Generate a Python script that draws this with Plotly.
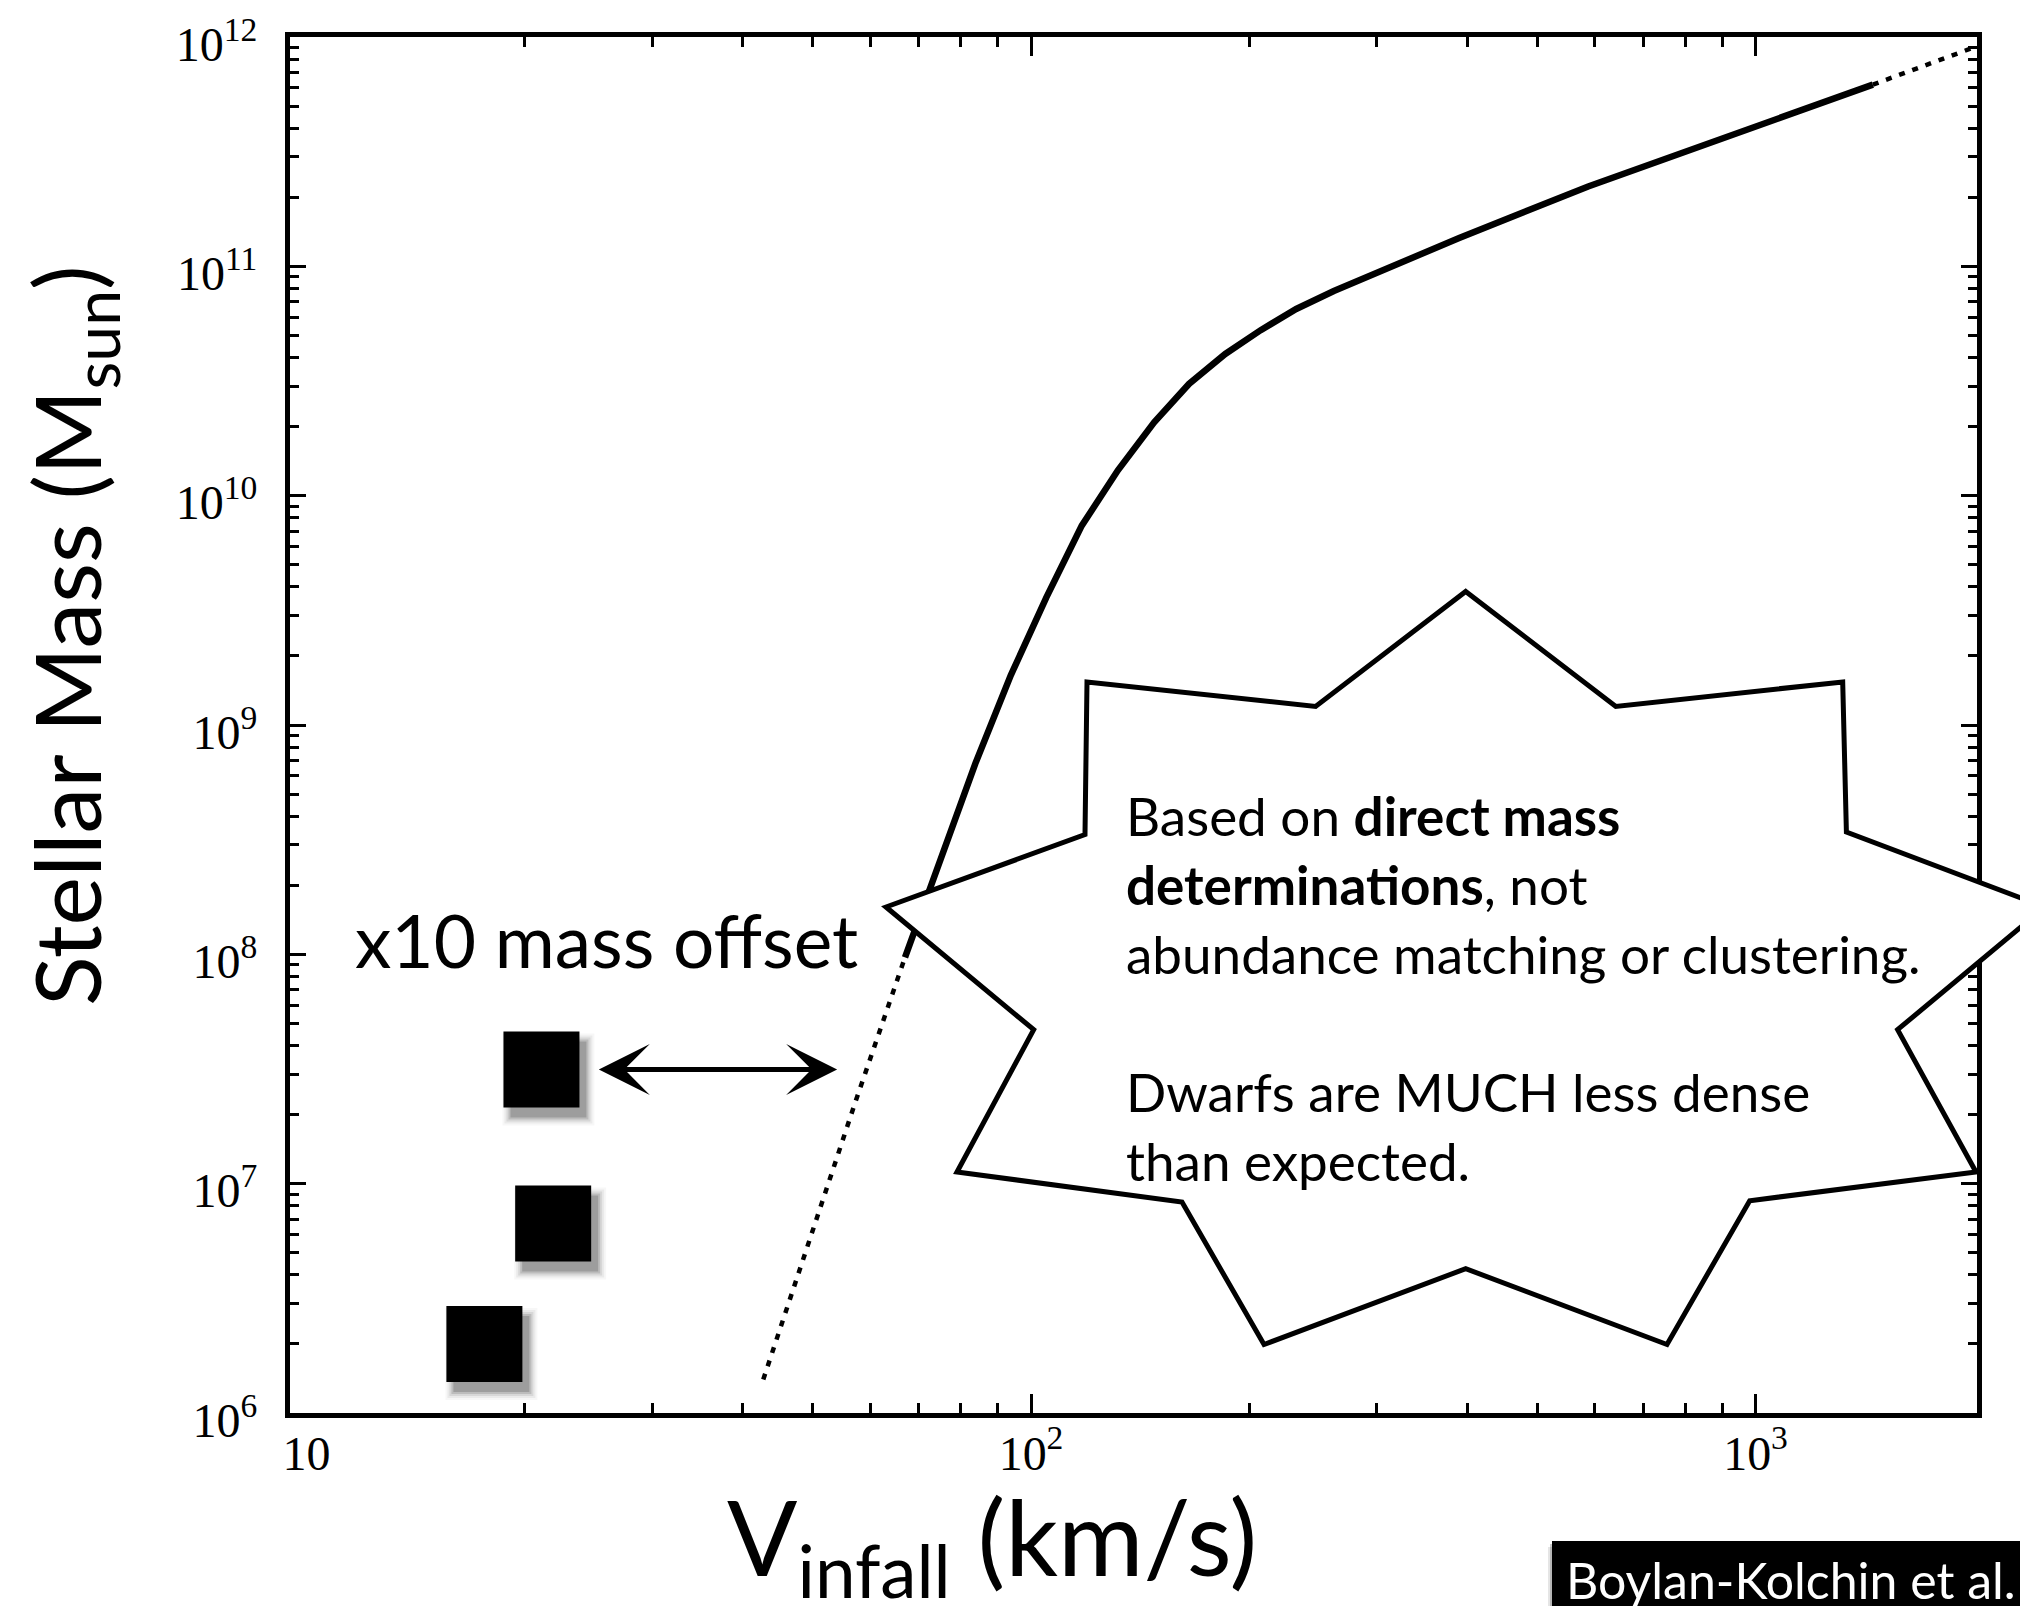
import numpy as np
import plotly.graph_objects as go

# ---------------- data ----------------
# V_infall (km/s) and stellar mass (M_sun) of the abundance-matching relation
v_solid = [67.0, 83.8, 93.8, 105.0, 117.5, 131.8, 147.9, 165.2, 185.4, 207.5,
           232.3, 261.8, 389.9, 587.5, 1452.0]
m_solid = [9.7e7, 6.8e8, 1.65e9, 3.6e9, 7.4e9, 1.29e10, 2.09e10, 3.07e10,
           4.15e10, 5.27e10, 6.52e10, 7.8e10, 1.33e11, 2.23e11, 6.2e11]
# extrapolated (dotted) parts
v_dot_lo = [42.7, 57.3, 67.0]
m_dot_lo = [1.4e6, 2.3e7, 9.7e7]
v_dot_hi = [1452.0, 2000.0]
m_dot_hi = [6.2e11, 9.0e11]
# dwarf satellites (squares)
v_dwarf = [21.1, 21.9, 17.6]
m_dwarf = [3.15e7, 6.7e6, 2.0e6]
# x10 mass offset arrow
offset_v = [25.2, 54.0]
offset_m = 3.15e7

x_tickvals = [10, 100, 1000]
x_ticktext = ["10", "10<sup>2</sup>", "10<sup>3</sup>"]
y_tickvals = [1e6, 1e7, 1e8, 1e9, 1e10, 1e11, 1e12]
y_ticktext = ["10<sup>6</sup>", "10<sup>7</sup>", "10<sup>8</sup>", "10<sup>9</sup>",
              "10<sup>10</sup>", "10<sup>11</sup>", "10<sup>12</sup>"]

# ---------------- layout geometry ----------------
W, H = 2028, 1606
L, T = 282, 29
AX_W, AX_H = 1687, 1376
SX, SY = 7, 10            # square shadow offset (px)
WP, HP = AX_W + SX, AX_H + SY
R = W - L - WP
B = H - T - HP
ex, ey = SX / WP, SY / HP

def px(X):
    return (X - L) / WP

def py(Y):
    return (T + HP - Y) / HP

XR = [0.9772, 3.3057]
YR = [5.9999, 12.0001]

SANS = "Lato"
SERIF = "Liberation Serif"

minor_x = [k * 10 ** e for e in (1, 2) for k in range(2, 10)]
minor_y = [k * 10.0 ** e for e in range(6, 12) for k in range(2, 10)]

fig = go.Figure()

dot_style = dict(color="black", width=4.5, dash="6px,8px")
fig.add_trace(go.Scatter(x=v_dot_lo, y=m_dot_lo, mode="lines", line=dot_style,
                         xaxis="x", yaxis="y", hoverinfo="skip"))
fig.add_trace(go.Scatter(x=v_dot_hi, y=m_dot_hi, mode="lines", line=dot_style,
                         xaxis="x", yaxis="y", hoverinfo="skip"))
fig.add_trace(go.Scatter(x=v_solid, y=m_solid, mode="lines",
                         line=dict(color="black", width=6.5),
                         xaxis="x", yaxis="y", hoverinfo="skip"))

# soft shadows (shifted subplot)
for s, a in [(92, 0.03), (88, 0.05), (84, 0.08), (80, 0.12), (76, 0.16)]:
    fig.add_trace(go.Scatter(x=v_dwarf, y=m_dwarf, mode="markers",
                             marker=dict(symbol="square", size=s,
                                         color=f"rgba(0,0,0,{a})",
                                         line=dict(width=0)),
                             xaxis="x2", yaxis="y2", cliponaxis=False,
                             hoverinfo="skip"))
# squares
fig.add_trace(go.Scatter(x=v_dwarf, y=m_dwarf, mode="markers",
                         marker=dict(symbol="square", size=76, color="black",
                                     line=dict(width=0)),
                         xaxis="x3", yaxis="y3", cliponaxis=False,
                         hoverinfo="skip"))

axis_common = dict(type="log", showgrid=False, zeroline=False, automargin=False)

STAR_PX = [(1465.7, 591.4), (1615.8, 706.4), (1842.7, 681.9), (1846.4, 832.0),
           (2045.0, 907.0), (1897.6, 1029.7), (1976.0, 1172.0), (1749.7, 1200.7),
           (1667.0, 1344.5), (1465.7, 1268.7), (1264.0, 1344.5), (1182.0, 1202.0),
           (957.0, 1172.0), (1033.7, 1029.7), (886.0, 907.0), (1085.0, 834.6),
           (1087.0, 682.0), (1315.6, 706.4)]
STAR_DX, STAR_DY = -8, -8
star_path = "M " + " L ".join(f"{px(x + STAR_DX):.5f},{py(y + STAR_DY):.5f}"
                              for x, y in STAR_PX) + " Z"

BOX_TOP, BOX_BOT, BOX_L = 1533, 1602, 1544
shapes = [
    dict(type="path", path=star_path, xref="paper", yref="paper",
         line=dict(color="black", width=5), fillcolor="white", layer="above"),
    dict(type="rect", xref="paper", yref="paper",
         x0=px(BOX_L - 4), x1=px(2080), y0=py(BOX_BOT + 9), y1=py(BOX_TOP + 6),
         fillcolor="rgba(0,0,0,0.10)", line=dict(width=0), layer="above"),
    dict(type="rect", xref="paper", yref="paper",
         x0=px(BOX_L - 2), x1=px(2080), y0=py(BOX_BOT + 5), y1=py(BOX_TOP + 3),
         fillcolor="rgba(0,0,0,0.20)", line=dict(width=0), layer="above"),
    dict(type="rect", xref="paper", yref="paper",
         x0=px(BOX_L), x1=px(2080), y0=py(BOX_BOT), y1=py(BOX_TOP),
         fillcolor="black", line=dict(width=0), layer="above"),
]

annotations = [
    dict(text="x10 mass offset", xref="paper", yref="paper",
         x=px(598), y=py(932), xanchor="center", yanchor="middle",
         showarrow=False, font=dict(family=SANS, size=73, color="black")),
    dict(text=("Based on <b>direct mass</b><br><b>determinations</b>, not<br>"
               "abundance matching or clustering.<br><br>"
               "Dwarfs are MUCH less dense<br>than expected."),
         xref="paper", yref="paper", x=px(1116), y=py(980),
         xanchor="left", yanchor="middle", align="left", showarrow=False,
         font=dict(family=SANS, size=53, color="black")),
    dict(text="Boylan-Kolchin et al.", xref="paper", yref="paper",
         x=px(1556), y=py(1572), xanchor="left", yanchor="middle",
         showarrow=False, font=dict(family=SANS, size=50, color="white")),
    dict(text="Stellar Mass (M<sub>sun</sub>)", xref="paper", yref="paper",
         x=px(64), y=py(628), xanchor="center", yanchor="middle",
         textangle=-90, showarrow=False,
         font=dict(family=SANS, size=92, color="black")),
    dict(text="V<sub>infall</sub> (km/s)", xref="paper", yref="paper",
         x=px(984), y=py(1536), xanchor="center", yanchor="middle",
         showarrow=False, font=dict(family=SANS, size=104, color="black")),
    dict(text="", xref="x", yref="y", axref="x", ayref="y",
         x=np.log10(offset_v[1]), y=np.log10(offset_m),
         ax=np.log10(offset_v[0]), ay=np.log10(offset_m),
         showarrow=True, arrowhead=3, startarrowhead=3, arrowside="end+start",
         arrowsize=1.7, startarrowsize=1.7, arrowwidth=5, arrowcolor="black",
         standoff=0, startstandoff=0),
]

fig.update_layout(
    width=W, height=H,
    margin=dict(l=L, r=R, t=T, b=B, pad=0, autoexpand=False),
    paper_bgcolor="white", plot_bgcolor="rgba(0,0,0,0)",
    showlegend=False,
    xaxis=dict(**axis_common, range=XR, domain=[0, 1 - ex], anchor="y",
               showline=True, linewidth=5, linecolor="black", mirror="allticks",
               ticks="", tickmode="array", tickvals=x_tickvals, ticktext=x_ticktext,
               tickfont=dict(family=SERIF, size=48, color="black"),
               ticklabelstandoff=-6, ticklabeloverflow="allow",
               minor=dict(tickmode="array", tickvals=minor_x, ticks="inside",
                          ticklen=10, tickwidth=3, tickcolor="black", showgrid=False)),
    yaxis=dict(**axis_common, range=YR, domain=[ey, 1], anchor="x",
               showline=True, linewidth=5, linecolor="black", mirror="allticks",
               ticks="inside", ticklen=16, tickwidth=3, tickcolor="black",
               tickmode="array", tickvals=y_tickvals, ticktext=y_ticktext,
               tickfont=dict(family=SERIF, size=48, color="black"),
               ticklabelstandoff=18, ticklabelshift=7, ticklabeloverflow="allow",
               minor=dict(tickmode="array", tickvals=minor_y, ticks="inside",
                          ticklen=9, tickwidth=3, tickcolor="black", showgrid=False)),
    xaxis2=dict(**axis_common, range=XR, domain=[ex, 1], anchor="y2", visible=False),
    yaxis2=dict(**axis_common, range=YR, domain=[0, 1 - ey], anchor="x2", visible=False),
    xaxis3=dict(**axis_common, range=XR, domain=[0, 1 - ex], anchor="y3",
                showline=True, linewidth=5, linecolor="black", mirror="allticks",
                ticks="inside", ticklen=19, tickwidth=3, tickcolor="black",
                tickmode="array", tickvals=[100, 1000], showticklabels=False),
    yaxis3=dict(**axis_common, range=YR, domain=[ey, 1], anchor="x3", visible=False),
    shapes=shapes,
    annotations=annotations,
)

fig.write_html("out.html")
